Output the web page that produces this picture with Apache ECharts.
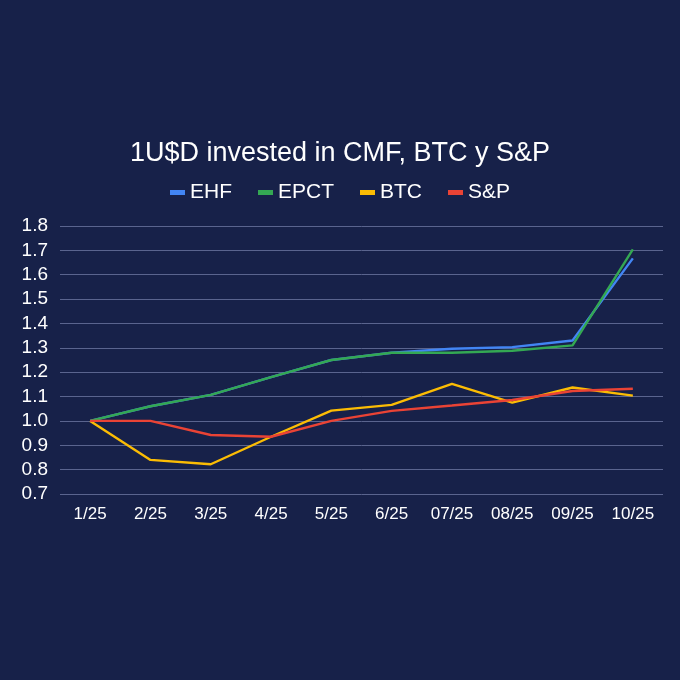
<!DOCTYPE html>
<html>
<head>
<meta charset="utf-8">
<title>1U$D invested in CMF, BTC y S&P</title>
<script src="https://cdn.jsdelivr.net/npm/echarts@6/dist/echarts.min.js"></script>
<style>
    html, body { margin: 0; padding: 0; background: #172149; }
    #chart { width: 680px; height: 680px; }
</style>
</head>
<body>
<div id="chart"></div>
<script>
// months on the x axis
var months = ['1/25', '2/25', '3/25', '4/25', '5/25', '6/25', '07/25', '08/25', '09/25', '10/25'];

// value of 1 U$D over time
var ehf  = [1.00, 1.06, 1.107, 1.18, 1.25, 1.28, 1.296, 1.303, 1.33, 1.667];
var epct = [1.00, 1.06, 1.107, 1.18, 1.25, 1.28, 1.28, 1.288, 1.31, 1.704];
var btc  = [1.00, 0.84, 0.822, 0.935, 1.042, 1.066, 1.152, 1.075, 1.137, 1.104];
var sp   = [1.00, 1.00, 0.942, 0.935, 1.00, 1.041, 1.063, 1.086, 1.123, 1.132];

var seriesNames = ['EHF', 'EPCT', 'BTC', 'S&P'];
var seriesColors = ['#4285f4', '#34a853', '#fbbc04', '#ea4335'];

var font = '"Liberation Sans", Arial, sans-serif';

function makeLine(name, data, color) {
    return {
        name: name,
        type: 'line',
        data: data,
        symbol: 'none',
        lineStyle: { color: color, width: 2.4 },
        itemStyle: { color: color }
    };
}

var echart = echarts.init(document.getElementById('chart'));
echart.setOption({
    backgroundColor: '#172149',
    animation: false,
    title: {
        text: '1U$D invested in CMF, BTC y S&P',
        left: 'center',
        top: 135,
        textStyle: { color: '#ffffff', fontFamily: font, fontSize: 27, fontWeight: 'normal' }
    },
    legend: {
        top: 177,
        left: 'center',
        itemWidth: 15,
        itemHeight: 5,
        itemGap: 26,
        icon: 'rect',
        textStyle: { color: '#ffffff', fontFamily: font, fontSize: 21 },
        data: seriesNames
    },
    grid: { left: 60, right: 17, top: 226, bottom: 186 },
    xAxis: {
        type: 'category',
        data: months,
        axisLine: { show: false },
        axisTick: { show: false },
        axisLabel: { color: '#ffffff', fontFamily: font, fontSize: 17, margin: 12 }
    },
    yAxis: {
        type: 'value',
        min: 0.7,
        max: 1.8,
        interval: 0.1,
        axisLine: { show: false },
        axisTick: { show: false },
        axisLabel: {
            color: '#ffffff', fontFamily: font, fontSize: 19, margin: 12,
            formatter: function (v) { return v.toFixed(1); }
        },
        splitLine: { lineStyle: { color: '#5a648e', width: 1 } }
    },
    series: [
        makeLine(seriesNames[0], ehf, seriesColors[0]),
        makeLine(seriesNames[1], epct, seriesColors[1]),
        makeLine(seriesNames[2], btc, seriesColors[2]),
        makeLine(seriesNames[3], sp, seriesColors[3])
    ]
});
</script>
</body>
</html>
